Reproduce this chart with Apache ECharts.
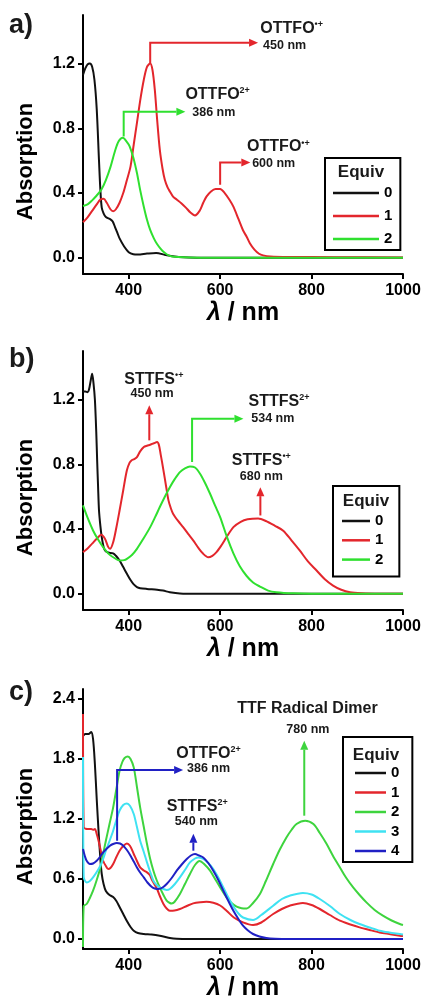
<!DOCTYPE html>
<html><head><meta charset="utf-8">
<script src="https://cdn.jsdelivr.net/npm/echarts@6/dist/echarts.min.js"></script>
<style>html,body{margin:0;padding:0;background:#fff}#c{width:428px;height:1003px}</style>
</head><body><div id="c"></div>
<script>
// ---------- tick labels ----------
const xTicks = [400, 600, 800, 1000];
const yTicksAB = [0, 0.4, 0.8, 1.2];
const yTicksC = [0, 0.6, 1.2, 1.8, 2.4];
const equivAB = ['0', '1', '2'];
const equivC = ['0', '1', '2', '3', '4'];

// ---------- panel a: OTTFO ([nm, absorption]) ----------
const a0 = [[300,1.13],[305,1.17],[310,1.195],[315,1.2],[320,1.18],[325,1.1],[330,0.92],[335,0.6],[338,0.42],[341,0.31],[345,0.275],[350,0.252],[360,0.238],[365,0.225],[370,0.19],[375,0.155],[380,0.12],[390,0.07],[400,0.035],[410,0.022],[420,0.02],[440,0.026],[460,0.03],[480,0.018],[500,0.008],[520,0.003],[550,0.001],[600,0],[1000,0]];
const a1 = [[300,0.22],[310,0.25],[320,0.29],[330,0.33],[338,0.36],[345,0.365],[352,0.34],[360,0.3],[366,0.288],[372,0.3],[380,0.34],[388,0.4],[395,0.47],[404,0.565],[411,0.7],[418,0.834],[425,0.97],[433,1.1],[440,1.18],[447,1.2],[452,1.16],[457,1.04],[462,0.86],[468,0.668],[474,0.55],[479,0.482],[485,0.435],[490,0.41],[497,0.378],[505,0.36],[515,0.337],[525,0.31],[535,0.28],[545,0.262],[555,0.29],[563,0.34],[570,0.378],[580,0.41],[590,0.425],[600,0.425],[610,0.4],[620,0.36],[629,0.316],[640,0.24],[650,0.17],[658,0.13],[665,0.09],[675,0.05],[685,0.025],[694,0.015],[710,0.008],[750,0.005],[850,0.004],[1000,0.002]];
const a2 = [[300,0.32],[310,0.33],[320,0.355],[330,0.385],[340,0.42],[350,0.48],[360,0.56],[370,0.66],[378,0.72],[387,0.742],[395,0.72],[402,0.689],[410,0.62],[418,0.524],[425,0.42],[433,0.316],[440,0.235],[447,0.172],[455,0.12],[462,0.085],[470,0.055],[476,0.037],[483,0.022],[490,0.012],[500,0.006],[520,0.003],[560,0.001],[600,0],[1000,0]];

// ---------- panel b: STTFS ----------
const b0 = [[300,1.25],[305,1.25],[310,1.245],[313,1.26],[317,1.32],[320,1.36],[323,1.3],[326,1.2],[329,1.0],[331,0.82],[333,0.66],[335,0.515],[338,0.42],[341,0.35],[345,0.29],[348,0.268],[355,0.255],[366,0.25],[372,0.235],[380,0.206],[388,0.165],[396,0.124],[404,0.085],[411,0.058],[418,0.042],[425,0.035],[440,0.03],[462,0.025],[475,0.02],[490,0.01],[512,0.002],[550,0],[1000,0]];
const b1 = [[300,0.257],[310,0.28],[320,0.31],[330,0.34],[340,0.365],[348,0.34],[355,0.29],[359,0.278],[366,0.319],[373,0.41],[380,0.515],[388,0.64],[396,0.763],[402,0.81],[406,0.824],[412,0.832],[418,0.845],[425,0.88],[433,0.907],[440,0.915],[447,0.921],[455,0.93],[462,0.938],[466,0.92],[470,0.86],[476,0.763],[482,0.66],[487,0.577],[492,0.53],[497,0.495],[508,0.45],[519,0.412],[530,0.37],[541,0.33],[552,0.285],[563,0.247],[574,0.226],[583,0.235],[592,0.257],[603,0.3],[614,0.35],[629,0.412],[645,0.445],[660,0.46],[683,0.465],[700,0.45],[720,0.42],[738,0.39],[756,0.33],[774,0.268],[792,0.2],[811,0.144],[829,0.09],[847,0.051],[865,0.025],[884,0.01],[910,0.004],[950,0.001],[1000,0]];
const b2 = [[300,0.546],[310,0.47],[322,0.391],[333,0.335],[344,0.288],[355,0.25],[366,0.226],[380,0.206],[390,0.208],[396,0.216],[407,0.24],[418,0.278],[432,0.34],[447,0.412],[458,0.475],[468,0.536],[479,0.6],[490,0.659],[501,0.71],[512,0.752],[523,0.775],[534,0.787],[545,0.78],[556,0.742],[567,0.685],[578,0.618],[589,0.545],[600,0.474],[615,0.35],[629,0.25],[643,0.17],[658,0.11],[672,0.07],[687,0.045],[705,0.02],[723,0.01],[760,0.003],[800,0.001],[1000,0]];

// ---------- panel c: mixture ----------
const c0 = [[300,2.03],[305,2.05],[312,2.05],[318,2.07],[322,2.0],[326,1.75],[330,1.4],[334,1.08],[338,0.8],[341,0.65],[345,0.55],[350,0.48],[358,0.44],[366,0.42],[373,0.38],[380,0.32],[388,0.25],[396,0.18],[404,0.12],[411,0.083],[420,0.06],[433,0.05],[450,0.045],[468,0.033],[480,0.02],[490,0.01],[505,0.003],[530,0],[1000,0]];
const c1 = [[300,2.25],[301.5,1.12],[310,1.1],[318,1.1],[322,1.093],[326,1.1],[330,1.05],[334,0.983],[339,0.88],[344,0.783],[350,0.73],[355,0.7],[360,0.71],[366,0.75],[373,0.82],[380,0.883],[388,0.93],[396,0.956],[403,0.93],[411,0.85],[418,0.78],[425,0.716],[433,0.685],[440,0.666],[446,0.64],[450,0.6],[456,0.55],[462,0.5],[469,0.42],[476,0.35],[483,0.305],[490,0.283],[500,0.285],[512,0.3],[527,0.33],[541,0.356],[557,0.368],[570,0.372],[585,0.362],[600,0.335],[614,0.283],[630,0.215],[650,0.166],[672,0.14],[690,0.165],[716,0.25],[735,0.3],[752,0.333],[781,0.36],[800,0.34],[818,0.3],[840,0.24],[862,0.183],[885,0.145],[905,0.116],[927,0.09],[949,0.066],[970,0.05],[993,0.033],[1000,0.03]];
const c2 = [[300,-0.08],[301.5,0.33],[308,0.35],[315,0.41],[322,0.483],[330,0.59],[338,0.716],[344,0.85],[350,0.983],[358,1.15],[366,1.316],[373,1.5],[380,1.683],[386,1.77],[391,1.81],[398,1.825],[404,1.8],[411,1.716],[418,1.52],[425,1.316],[433,1.12],[440,0.95],[447,0.8],[454,0.683],[461,0.59],[468,0.516],[476,0.44],[483,0.383],[490,0.36],[494,0.356],[500,0.37],[512,0.45],[523,0.55],[534,0.65],[545,0.74],[555,0.78],[566,0.745],[578,0.683],[589,0.6],[600,0.516],[614,0.416],[625,0.36],[636,0.323],[647,0.308],[658,0.306],[672,0.36],[687,0.45],[700,0.58],[716,0.75],[730,0.89],[745,1.016],[756,1.09],[767,1.15],[786,1.183],[804,1.15],[818,1.06],[833,0.95],[847,0.83],[862,0.716],[876,0.61],[891,0.516],[905,0.44],[920,0.366],[938,0.29],[956,0.233],[975,0.185],[993,0.15],[1000,0.14]];
const c3 = [[300,1.82],[301.5,0.62],[308,0.566],[315,0.58],[322,0.616],[330,0.67],[338,0.733],[344,0.8],[350,0.883],[358,0.98],[366,1.083],[373,1.19],[380,1.283],[388,1.34],[396,1.356],[403,1.33],[411,1.25],[418,1.12],[425,0.983],[433,0.87],[440,0.766],[447,0.67],[454,0.583],[461,0.54],[468,0.516],[476,0.5],[483,0.49],[490,0.5],[501,0.55],[512,0.616],[523,0.69],[534,0.766],[545,0.805],[552,0.816],[563,0.8],[574,0.76],[585,0.7],[596,0.615],[607,0.516],[618,0.415],[629,0.325],[640,0.255],[650,0.215],[672,0.19],[690,0.24],[716,0.333],[735,0.4],[752,0.433],[781,0.46],[800,0.445],[818,0.4],[840,0.33],[862,0.25],[885,0.19],[905,0.15],[927,0.115],[949,0.083],[970,0.065],[993,0.05],[1000,0.045]];
const c4 = [[300,0.9],[304,0.83],[308,0.783],[315,0.75],[322,0.755],[330,0.783],[337,0.82],[344,0.866],[351,0.9],[359,0.933],[366,0.95],[374,0.96],[381,0.955],[388,0.933],[396,0.89],[404,0.833],[411,0.775],[418,0.716],[425,0.665],[433,0.616],[441,0.565],[450,0.523],[457,0.505],[465,0.5],[474,0.515],[483,0.55],[494,0.61],[505,0.683],[516,0.745],[527,0.8],[536,0.835],[545,0.85],[554,0.835],[563,0.816],[574,0.76],[585,0.683],[596,0.59],[607,0.483],[618,0.38],[629,0.283],[640,0.2],[650,0.133],[661,0.085],[672,0.05],[686,0.025],[701,0.01],[720,0.003],[750,0],[1000,0]];

// ---------- annotation labels (text) ----------
const annTextA = [['OTTFO{s|•+}', '450 nm'], ['OTTFO{s|2+}', '386 nm'], ['OTTFO{s|•+}', '600 nm']];
const annTextB = [['STTFS{s|•+}', '450 nm'], ['STTFS{s|2+}', '534 nm'], ['STTFS{s|•+}', '680 nm']];
const annTextC = [['OTTFO{s|2+}', '386 nm'], ['STTFS{s|2+}', '540 nm'], ['TTF Radical Dimer', '780 nm']];

const FONT = "'Liberation Sans', Arial, sans-serif";
const COL = { k: '#111111', r: '#e3262c', g: '#2fe02f', g2: '#3ed43e', cy: '#3fe2f2', b: '#2020c4' };

// annotation geometry in data coordinates (arrow path, label anchors)
const annotations = [
  [ { color: COL.r, path: [[447,1.2],[447,1.328],[683,1.328]], l1: [688,1.419,'left'], l2: [694,1.313,'left'] },
    { color: COL.g, path: [[389,0.749],[389,0.902],[524,0.902]], l1: [524,1.009,'left'], l2: [539,0.898,'left'] },
    { color: COL.r, path: [[600,0.451],[600,0.589],[666,0.589]], l1: [659,0.687,'left'], l2: [670,0.581,'left'] } ],
  [ { color: COL.r, path: [[445,0.948],[445,1.165]], l1: [455,1.326,'center'], l2: [451,1.239,'center'] },
    { color: COL.g, path: [[538.6,0.814],[538.6,1.082],[651,1.082]], l1: [662,1.189,'left'], l2: [668,1.084,'left'] },
    { color: COL.r, path: [[688,0.484],[688,0.659]], l1: [690,0.824,'center'], l2: [690,0.725,'center'] } ],
  [ { color: COL.b, path: [[374.6,0.983],[374.6,1.69],[519,1.69]], l1: [504,1.856,'left'], l2: [527.6,1.70,'left'] },
    { color: COL.b, path: [[541.4,0.883],[541.4,1.053]], l1: [550,1.326,'center'], l2: [548,1.173,'center'] },
    { color: COL.g2, path: [[784,1.233],[784,1.983]], l1: [791,2.303,'center'], l2: [792,2.09,'center'] } ]
];
const annTexts = [annTextA, annTextB, annTextC];

const grids = [
  { left: 83, width: 320, top: 15, height: 259 },
  { left: 83, width: 320, top: 351, height: 259 },
  { left: 83, width: 320, top: 689, height: 260 }
];
const yCfg = [
  { min: -0.1, max: 1.5, ticks: yTicksAB, shift: 34 },
  { min: -0.1, max: 1.5, ticks: yTicksAB, shift: 34 },
  { min: -0.1, max: 2.5, ticks: yTicksC, shift: 15 }
];

const xAxes = grids.map((g, i) => ({
  type: 'value', gridIndex: i, min: 300, max: 1000,
  axisLine: { show: true, onZero: false, lineStyle: { color: '#000', width: 2 } },
  axisTick: { show: true, customValues: xTicks, length: 5, lineStyle: { color: '#000', width: 2 } },
  axisLabel: { customValues: xTicks, formatter: v => String(v), fontSize: 16, fontWeight: 'bold', color: '#000', fontFamily: FONT, margin: 9 },
  splitLine: { show: false },
  name: '{l|λ} / nm', nameLocation: 'middle', nameGap: 27,
  nameTextStyle: { fontSize: 25, fontWeight: 'bold', color: '#000', fontFamily: FONT,
    rich: { l: { fontSize: 25, fontStyle: 'italic', fontWeight: 'bold', color: '#000', fontFamily: FONT } } }
}));
const yAxes = yCfg.map((c, i) => ({
  type: 'value', gridIndex: i, min: c.min, max: c.max,
  axisLine: { show: true, onZero: false, lineStyle: { color: '#000', width: 2 } },
  axisTick: { show: true, customValues: c.ticks, length: 5, lineStyle: { color: '#000', width: 2 } },
  axisLabel: { customValues: c.ticks, formatter: v => v.toFixed(1), fontSize: 16, fontWeight: 'bold', color: '#000', fontFamily: FONT, margin: 8 },
  splitLine: { show: false },
  name: 'Absorption', nameLocation: 'middle', nameGap: 46,
  nameTextStyle: { fontSize: 22, fontWeight: 'bold', color: '#000', fontFamily: FONT, padding: [0, c.shift, 0, 0] }
}));

function mk(name, data, color, idx) {
  return { type: 'line', name, data, xAxisIndex: idx, yAxisIndex: idx, showSymbol: false, symbol: 'none',
    smooth: 0.3, lineStyle: { color, width: 2 }, itemStyle: { color }, emphasis: { disabled: true } };
}
const series = [
  mk('a0', a0, COL.k, 0), mk('a1', a1, COL.r, 0), mk('a2', a2, COL.g, 0),
  mk('b0', b0, COL.k, 1), mk('b1', b1, COL.r, 1), mk('b2', b2, COL.g, 1),
  mk('c0', c0, COL.k, 2), mk('c1', c1, COL.r, 2), mk('c2', c2, COL.g2, 2), mk('c3', c3, COL.cy, 2), mk('c4', c4, COL.b, 2)
];

function legend(prefix, names, left, top, itemW, gap, lh, pad) {
  return { orient: 'vertical', left, top, data: names.map(n => prefix + n), formatter: n => n.slice(1),
    icon: 'rect', itemWidth: itemW, itemHeight: 2.5, itemGap: gap, selectedMode: false,
    textStyle: { fontSize: 15, fontWeight: 'bold', color: '#000', fontFamily: FONT, lineHeight: lh },
    padding: pad, borderColor: '#000', borderWidth: 2, borderRadius: 0, backgroundColor: '#fff' };
}

const option = {
  animation: false,
  backgroundColor: '#fff',
  grid: grids,
  xAxis: xAxes,
  yAxis: yAxes,
  legend: [
    legend('a', equivAB, 325, 158, 46, 5, 18, [26, 8, 2, 8]),
    legend('b', equivAB, 333, 486, 28, 3.3, 16, [27, 16, 9, 9]),
    legend('c', equivC, 343, 737, 31, 3.5, 16, [28, 13, 3, 12])
  ],
  series
};

const chart = echarts.init(document.getElementById('c'));
chart.setOption(option);

// annotations placed through the axes' own scales
const gfx = [];
function txt(x, y, text, size, align, extra) {
  return Object.assign({ type: 'text', x, y, z: 60,
    style: { text, fill: '#1a1a1a', fontSize: size, fontWeight: 'bold', fontFamily: FONT,
      align, textAlign: align, verticalAlign: 'middle', textVerticalAlign: 'middle',
      rich: { s: { fontSize: 9, fontWeight: 'bold', fill: '#1a1a1a', fontFamily: FONT, verticalAlign: 'top', lineHeight: 16 } } } }, extra || {});
}
annotations.forEach((list, i) => {
  list.forEach((a, k) => {
    const pts = a.path.map(p => chart.convertToPixel({ xAxisIndex: i, yAxisIndex: i }, p));
    const n = pts.length;
    const [x1, y1] = pts[n - 2], [x2, y2] = pts[n - 1];
    const ang = Math.atan2(y2 - y1, x2 - x1);
    const L = 9, W = 4;
    const bx = x2 - Math.cos(ang) * L, by = y2 - Math.sin(ang) * L;
    const line = pts.slice(0, n - 1).concat([[bx, by]]);
    gfx.push({ type: 'polyline', z: 50, shape: { points: line }, style: { stroke: a.color, lineWidth: 2, fill: null } });
    gfx.push({ type: 'polygon', z: 50, shape: { points: [[x2, y2], [bx - Math.sin(ang) * W, by + Math.cos(ang) * W], [bx + Math.sin(ang) * W, by - Math.cos(ang) * W]] }, style: { fill: a.color } });
    const t = annTexts[i][k];
    const p1 = chart.convertToPixel({ xAxisIndex: i, yAxisIndex: i }, [a.l1[0], a.l1[1]]);
    const p2 = chart.convertToPixel({ xAxisIndex: i, yAxisIndex: i }, [a.l2[0], a.l2[1]]);
    gfx.push(txt(p1[0], p1[1], t[0], 16, a.l1[2]));
    gfx.push(txt(p2[0], p2[1], t[1], 12.5, a.l2[2]));
  });
});
// panel letters and legend titles
[['a)', 26], ['b)', 360], ['c)', 693]].forEach(([t, y]) => gfx.push(txt(9, y, t, 27, 'left')));
[[361, 172], [366, 501], [376, 755]].forEach(([x, y]) => gfx.push(txt(x, y, 'Equiv', 17, 'center')));
chart.setOption({ graphic: { elements: gfx } });
</script></body></html>
